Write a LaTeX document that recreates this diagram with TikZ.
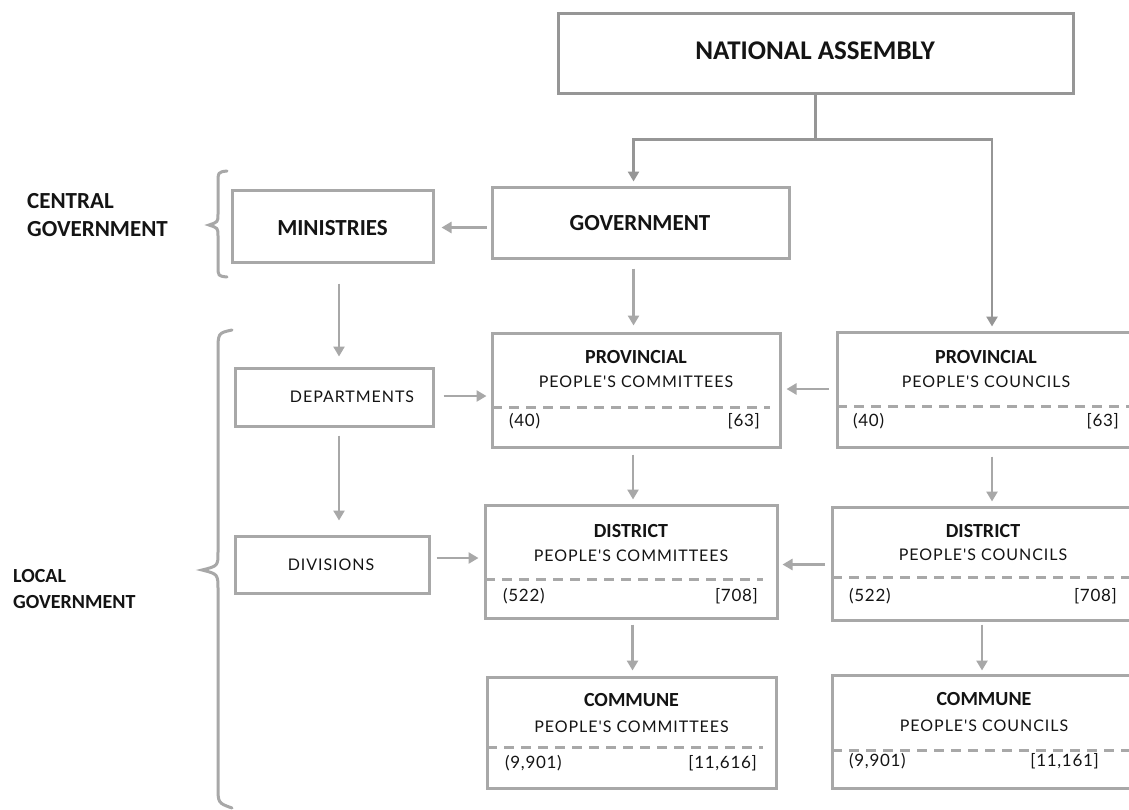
\documentclass[tikz,border=0pt]{standalone}
\usepackage{fontspec}
\setmainfont{Carlito}
\newfontfamily\lightfont[LetterSpace=6]{Lato}
\newfontfamily\numfont[LetterSpace=4]{Lato}
\usetikzlibrary{arrows.meta}
\definecolor{boxgray}{HTML}{A8A8A8}
\definecolor{nagray}{HTML}{969696}
\definecolor{ink}{HTML}{141414}
\tikzset{
  box/.style={draw=boxgray, line width=3pt, inner sep=0pt, fill=white},
  nabox/.style={draw=nagray, line width=3pt, inner sep=0pt},
  bigtxt/.style={font=\fontsize{23}{26}\selectfont\bfseries, text=ink, inner sep=0pt},
  sidetxt/.style={font=\fontsize{20}{26}\selectfont\bfseries, text=ink, inner sep=0pt, align=left, anchor=west},
  ttl/.style={font=\fontsize{20}{22}\selectfont\bfseries, text=ink, inner sep=0pt},
  sub/.style={font=\lightfont\fontsize{16}{19}\selectfont, text=ink, inner sep=0pt},
  num/.style={font=\numfont\fontsize{17}{19}\selectfont, text=ink, inner sep=0pt},
  dashline/.style={draw=boxgray, line width=3pt, dash pattern=on 10pt off 7pt},
  conn/.style={draw=boxgray, line width=2.8pt, -{Triangle[length=10pt,width=11pt]}},
  naline/.style={draw=nagray, line width=2.8pt},
  naconn/.style={draw=nagray, line width=2.8pt, -{Triangle[length=10pt,width=11pt]}},
  brace/.style={draw=boxgray, line width=3pt, line cap=round}
}
\begin{document}
\begin{tikzpicture}[x=1pt,y=-1pt]
\useasboundingbox (0,0) rectangle (1129,809);
\fill[white] (0,0) rectangle (1129,809);
\clip (0,0) rectangle (1129,809);

% top boxes
\node[nabox, minimum width=515pt, minimum height=80pt] (na) at (815.5,53) {};
\node[bigtxt, font=\fontsize{27}{30}\selectfont\bfseries] (natxt) at (815,51) {NATIONAL ASSEMBLY};
\node[box, minimum width=297pt, minimum height=71pt] (gov) at (640.5,222.5) {};
\node[bigtxt] (govtxt) at (640,223) {GOVERNMENT};
\node[box, minimum width=201pt, minimum height=72pt] (min) at (332.5,226) {};
\node[bigtxt] (mintxt) at (332.5,228) {MINISTRIES};

% side labels
\node[sidetxt, font=\fontsize{23}{28}\selectfont\bfseries] (central) at (27,215) {CENTRAL\\GOVERNMENT};
\node[sidetxt] (local) at (13,589) {LOCAL\\GOVERNMENT};

% left column
\node[box, minimum width=198pt, minimum height=58pt] (dep) at (334,397) {};
\node[sub] (deptxt) at (352,397) {DEPARTMENTS};
\node[box, minimum width=194pt, minimum height=57pt] (div) at (332,564.5) {};
\node[sub] (divtxt) at (331,565) {DIVISIONS};

% committees column
\node[box, minimum width=288pt, minimum height=114pt] (pcm) at (636,390) {};
\node[ttl] (pcmt) at (636,357) {PROVINCIAL};
\node[sub] (pcms) at (636,382) {PEOPLE'S COMMITTEES};
\coordinate (pcmd1) at (492,407); \coordinate (pcmd2) at (770,407);
\draw[dashline] (pcmd1) -- (pcmd2);
\node[num, anchor=west] (pcma) at (509,421) {(40)};
\node[num, anchor=east] (pcmb) at (760,421) {[63]};

\node[box, minimum width=292pt, minimum height=113pt] (dcm) at (631,561.5) {};
\node[ttl] (dcmt) at (631,531) {DISTRICT};
\node[sub] (dcms) at (631,556) {PEOPLE'S COMMITTEES};
\coordinate (dcmd1) at (485,579); \coordinate (dcmd2) at (763,579);
\draw[dashline] (dcmd1) -- (dcmd2);
\node[num, anchor=west] (dcma) at (503,596) {(522)};
\node[num, anchor=east] (dcmb) at (758,596) {[708]};

\node[box, minimum width=289pt, minimum height=111pt] (ccm) at (631.5,732.5) {};
\node[ttl] (ccmt) at (631.5,700) {COMMUNE};
\node[sub] (ccms) at (631.5,727) {PEOPLE'S COMMITTEES};
\coordinate (ccmd1) at (487,747); \coordinate (ccmd2) at (763,747);
\draw[dashline] (ccmd1) -- (ccmd2);
\node[num, anchor=west] (ccma) at (505,763) {(9,901)};
\node[num, anchor=east] (ccmb) at (757,763) {[11,616]};

% councils column
\node[box, minimum width=298pt, minimum height=115pt] (pcl) at (986,389.5) {};
\node[ttl] (pclt) at (986,357) {PROVINCIAL};
\node[sub] (pcls) at (986,382) {PEOPLE'S COUNCILS};
\coordinate (pcld1) at (837,406); \coordinate (pcld2) at (1140,406);
\draw[dashline] (pcld1) -- (pcld2);
\node[num, anchor=west] (pcla) at (853,421) {(40)};
\node[num, anchor=east] (pclb) at (1119,421) {[63]};

\node[box, minimum width=303pt, minimum height=113pt] (dcl) at (983.5,563.5) {};
\node[ttl] (dclt) at (983,531) {DISTRICT};
\node[sub] (dcls) at (983,555) {PEOPLE'S COUNCILS};
\coordinate (dcld1) at (832,577); \coordinate (dcld2) at (1140,577);
\draw[dashline] (dcld1) -- (dcld2);
\node[num, anchor=west] (dcla) at (849,596) {(522)};
\node[num, anchor=east] (dclb) at (1117,596) {[708]};

\node[box, minimum width=303pt, minimum height=113pt] (ccl) at (983.5,731.5) {};
\node[ttl] (cclt) at (984,699) {COMMUNE};
\node[sub] (ccls) at (984,726) {PEOPLE'S COUNCILS};
\coordinate (ccld1) at (832,750); \coordinate (ccld2) at (1140,750);
\draw[dashline] (ccld1) -- (ccld2);
\node[num, anchor=west] (ccla) at (849,761) {(9,901)};
\node[num, anchor=east] (cclb) at (1099,761) {[11,161]};

% connectors from national assembly
\draw[naline] (na.south) -- ++(0,45) coordinate (split);
\draw[naconn, shorten >=4pt] (split) -| ([xshift=-7pt]gov.north);
\draw[naconn, shorten >=4pt] (split) -| ([xshift=6pt]pcl.north);

% other connectors
\draw[conn, shorten <=4pt, shorten >=7pt] ([yshift=-5pt]gov.west) -- ([yshift=-5pt]gov.west -| min.east);
\draw[conn, shorten <=9pt, shorten >=6pt] ([xshift=-7pt]gov.south) -- ([xshift=-7pt]gov.south |- pcm.north);
\draw[conn, shorten <=20pt, shorten >=10pt] ([xshift=6.5pt]min.south) -- ([xshift=6.5pt]min.south |- dep.north);
\draw[conn, shorten <=8pt, shorten >=14pt] ([xshift=5pt]dep.south) -- ([xshift=5pt]dep.south |- div.north);
\draw[conn, shorten <=9pt, shorten >=4pt] ([yshift=1pt]dep.east) -- ([yshift=1pt]dep.east -| pcm.west);
\draw[conn, shorten <=6pt, shorten >=5pt] ([yshift=6.5pt]div.east) -- ([yshift=6.5pt]div.east -| dcm.west);
\draw[conn, shorten <=7pt, shorten >=5pt] ([yshift=0.5pt]pcl.west) -- ([yshift=0.5pt]pcl.west -| pcm.east);
\draw[conn, shorten <=6pt, shorten >=4pt] ([xshift=-3pt]pcm.south) -- ([xshift=-3pt]pcm.south |- dcm.north);
\draw[conn, shorten <=8pt, shorten >=4pt] ([xshift=6pt]pcl.south) -- ([xshift=6pt]pcl.south |- dcl.north);
\draw[conn, shorten <=6pt, shorten >=4pt] ([yshift=-1pt]dcl.west) -- ([yshift=-1pt]dcl.west -| dcm.east);
\draw[conn, shorten <=5pt, shorten >=5pt] ([xshift=1.5pt]dcm.south) -- ([xshift=1.5pt]dcm.south |- ccm.north);
\draw[conn, shorten <=3pt, shorten >=3pt] ([xshift=-1.5pt]dcl.south) -- ([xshift=-1.5pt]dcl.south |- ccl.north);

% braces
\draw[brace] (227,171) .. controls (218,172) .. (218,184) -- (218,214) .. controls (218,222) .. (209,225) .. controls (218,228) .. (218,236) -- (218,266) .. controls (218,276) .. (227,277);
\draw[brace] (232,330) .. controls (218,333) .. (218,352) -- (218,552) .. controls (218,566) .. (202,570) .. controls (218,574) .. (218,590) -- (218,786) .. controls (218,803) .. (232,808);
\end{tikzpicture}
\end{document}
